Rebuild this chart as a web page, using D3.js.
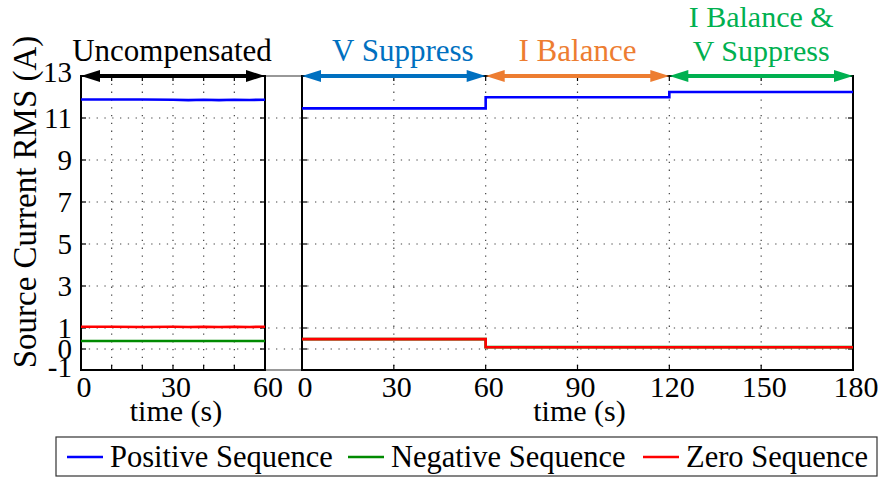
<!DOCTYPE html>
<html>
<head>
<meta charset="utf-8">
<script src="https://cdn.jsdelivr.net/npm/d3@7"></script>
<style>
  body { margin: 0; background: #fff; }
  svg { font-family: "Liberation Serif", "Times New Roman", serif; }
</style>
</head>
<body>
<div id="chart"></div>
<script>
/*
 * Data
 *****************************/
const yTicks = [13, 11, 9, 7, 5, 3, 1, 0, -1];
const leftTicks = [0, 30, 60];
const leftGrid = [10, 20, 30, 40, 50];
const rightTicks = [0, 30, 60, 90, 120, 150, 180];

// uncompensated window (0-60 s)
const leftTime = [0, 10, 20, 30, 35, 40, 45, 50, 55, 60];
const leftPos  = [11.88, 11.88, 11.88, 11.87, 11.85, 11.87, 11.85, 11.87, 11.86, 11.87];
const leftNeg  = [0.38, 0.38, 0.38, 0.38, 0.38, 0.38, 0.38, 0.38, 0.38, 0.38];
const leftZero = [1.06, 1.06, 1.05, 1.06, 1.05, 1.06, 1.05, 1.06, 1.05, 1.06];

// compensated run (0-180 s), steps at 60 and 120 s
const rightTime = [0, 60, 60, 120, 120, 180];
const rightPos  = [11.46, 11.46, 11.99, 11.99, 12.24, 12.24];
const rightNeg  = [0.47, 0.47, 0.09, 0.09, 0.09, 0.09];
const rightZero = [0.47, 0.47, 0.08, 0.08, 0.08, 0.08];

const seriesNames  = ["Positive Sequence", "Negative Sequence", "Zero Sequence"];
const seriesColors = ["#0000ff", "#008a00", "#ff0000"];

const phaseLabels = [["V Suppress"], ["I Balance"], ["I Balance &", "V Suppress"]];
const phaseRanges = [[0, 60], [60, 120], [120, 180]];
const phaseColors = ["#0070c0", "#ed7d31", "#00b050"];

/*
 * Parameters
 *****************************/
const W = 884, H = 478;
const yTop = 76, yBottom = 370;
const leftX = [81, 265], rightX = [302, 853];
const fontSize = 30;

const svg = d3.select("#chart").append("svg")
  .attr("width", W).attr("height", H);

const y = d3.scaleLinear().domain([-1, 13]).range([yBottom, yTop]);
const xL = d3.scaleLinear().domain([0, 60]).range(leftX);
const xR = d3.scaleLinear().domain([0, 180]).range(rightX);

// gap box between the two panels
svg.append("rect")
  .attr("x", leftX[1]).attr("y", yTop)
  .attr("width", rightX[0] - leftX[1]).attr("height", yBottom - yTop)
  .attr("fill", "#fff").attr("stroke", "#777").attr("stroke-width", 1.5);

// horizontal grid across both panels
svg.append("g").selectAll("line")
  .data(yTicks.filter(d => d > -1 && d < 13))
  .join("line")
  .attr("x1", leftX[0]).attr("x2", rightX[1])
  .attr("y1", d => y(d)).attr("y2", d => y(d))
  .attr("stroke", "#444").attr("stroke-width", 1.2)
  .attr("stroke-dasharray", "1.3,6.5");

// vertical grid
svg.append("g").selectAll("line")
  .data(leftGrid.map(d => xL(d)).concat(rightTicks.slice(1, -1).map(d => xR(d))))
  .join("line")
  .attr("x1", d => d).attr("x2", d => d)
  .attr("y1", yTop).attr("y2", yBottom)
  .attr("stroke", "#444").attr("stroke-width", 1.2)
  .attr("stroke-dasharray", "1.3,6.5");

// panel boxes with inward ticks
function drawPanel(x, xticks) {
  const g = svg.append("g");
  const [x0, x1] = x.range();
  g.selectAll("line.xt")
    .data(xticks)
    .join("line").attr("class", "xt")
    .attr("x1", d => x(d)).attr("x2", d => x(d))
    .attr("y1", yBottom).attr("y2", yBottom - 5)
    .attr("stroke", "#000").attr("stroke-width", 1.2);
  g.selectAll("line.xt2")
    .data(xticks)
    .join("line").attr("class", "xt2")
    .attr("x1", d => x(d)).attr("x2", d => x(d))
    .attr("y1", yTop).attr("y2", yTop + 5)
    .attr("stroke", "#000").attr("stroke-width", 1.2);
  g.selectAll("line.yt")
    .data(yTicks)
    .join("line").attr("class", "yt")
    .attr("x1", x0).attr("x2", x0 + 5)
    .attr("y1", d => y(d)).attr("y2", d => y(d))
    .attr("stroke", "#000").attr("stroke-width", 1.2);
  g.selectAll("line.yt2")
    .data(yTicks)
    .join("line").attr("class", "yt2")
    .attr("x1", x1).attr("x2", x1 - 5)
    .attr("y1", d => y(d)).attr("y2", d => y(d))
    .attr("stroke", "#000").attr("stroke-width", 1.2);
  g.append("rect")
    .attr("x", x0).attr("y", yTop)
    .attr("width", x1 - x0).attr("height", yBottom - yTop)
    .attr("fill", "none").attr("stroke", "#000").attr("stroke-width", 2);

  return g;
}

const leftTickVals = d3.range(0, 61, 10);
drawPanel(xL, leftTickVals);
drawPanel(xR, rightTicks);

// x tick labels
function xLabels(x, ticks) {
  svg.append("g").selectAll("text")
    .data(ticks)
    .join("text")
    .attr("x", d => x(d) + 3).attr("y", 397)
    .attr("text-anchor", "middle")
    .style("font-size", fontSize + "px")
    .text(d => d);
}
xLabels(xL, leftTicks);
xLabels(xR, rightTicks);

svg.append("text")
  .attr("x", (leftX[0] + leftX[1]) / 2 + 3).attr("y", 421)
  .attr("text-anchor", "middle").style("font-size", fontSize + "px")
  .text("time (s)");
svg.append("text")
  .attr("x", (rightX[0] + rightX[1]) / 2 + 2).attr("y", 421)
  .attr("text-anchor", "middle").style("font-size", fontSize + "px")
  .text("time (s)");

// y tick labels
svg.append("g").selectAll("text")
  .data(yTicks)
  .join("text")
  .attr("x", 72)
  .attr("y", d => y(d) + (d === 13 ? -4 : d === -1 ? -3 : 0))
  .attr("dy", "0.34em")
  .attr("text-anchor", "end")
  .style("font-size", "29px")
  .text(d => d);

svg.append("text")
  .attr("transform", "translate(36,202) rotate(-90)")
  .attr("text-anchor", "middle")
  .style("font-size", "33px")
  .text("Source Current RMS (A)");

// series
const line = x => d3.line().x(d => x(d[0])).y(d => y(d[1]));
const leftSeries = [leftPos, leftNeg, leftZero];
const rightSeries = [rightPos, rightNeg, rightZero];

[0, 1, 2].forEach(i => {
  svg.append("path")
    .datum(leftTime.map((t, k) => [t, leftSeries[i][k]]))
    .attr("d", line(xL))
    .attr("fill", "none").attr("stroke", seriesColors[i]).attr("stroke-width", 2.6);
  svg.append("path")
    .datum(rightTime.map((t, k) => [t, rightSeries[i][k]]))
    .attr("d", line(xR))
    .attr("fill", "none").attr("stroke", seriesColors[i]).attr("stroke-width", 2.6);
});

// double-headed arrows with labels
function arrow(xa, xb, color, lines, dx) {
  const g = svg.append("g");
  const hl = 19, hw = 6;
  g.append("line")
    .attr("x1", xa + hl - 2).attr("x2", xb - hl + 2)
    .attr("y1", yTop).attr("y2", yTop)
    .attr("stroke", color).attr("stroke-width", 4);
  g.append("path")
    .attr("d", `M${xa},${yTop} L${xa + hl},${yTop - hw} L${xa + hl},${yTop + hw} Z`)
    .attr("fill", color);
  g.append("path")
    .attr("d", `M${xb},${yTop} L${xb - hl},${yTop - hw} L${xb - hl},${yTop + hw} Z`)
    .attr("fill", color);
  lines.forEach((t, k) => {
    g.append("text")
      .attr("x", (xa + xb) / 2 + dx)
      .attr("y", 61 - (lines.length - 1 - k) * 34)
      .attr("text-anchor", "middle")
      .attr("fill", color)
      .style("font-size", lines.length > 1 ? "30px" : "31px")
      .text(t);
  });
}

arrow(leftX[0], leftX[1], "#000", ["Uncompensated"], -1);
phaseLabels.forEach((lab, i) => {
  arrow(xR(phaseRanges[i][0]), xR(phaseRanges[i][1]), phaseColors[i], lab, i === 0 ? 9 : 0);
});

// legend
const legend = svg.append("g");
legend.append("rect")
  .attr("x", 56).attr("y", 437).attr("width", 821).attr("height", 39)
  .attr("fill", "#fff").attr("stroke", "#333").attr("stroke-width", 1.2);
const legendX = [67, 348, 643];
seriesNames.forEach((name, i) => {
  legend.append("line")
    .attr("x1", legendX[i]).attr("x2", legendX[i] + 36)
    .attr("y1", 457).attr("y2", 457)
    .attr("stroke", seriesColors[i]).attr("stroke-width", 2.6);
  legend.append("text")
    .attr("x", legendX[i] + 43).attr("y", 467)
    .style("font-size", "30.5px")
    .text(name);
});
</script>
</body>
</html>
